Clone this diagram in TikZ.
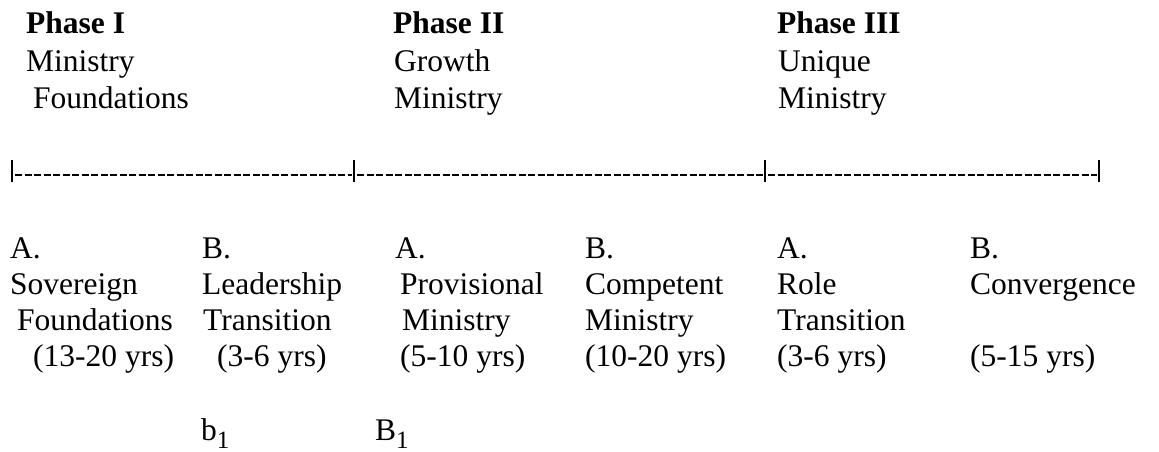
\documentclass[tikz,border=0pt]{standalone}
\usepackage{fontspec}
\setmainfont{Liberation Serif}
\begin{document}
\begin{tikzpicture}[x=1pt,y=-1pt,
  txt/.style={anchor=base west, inner sep=0pt, font=\fontsize{31.5}{37}\selectfont},
  hd/.style={anchor=base west, inner sep=0pt, font=\fontsize{31.5}{37}\selectfont\bfseries},
  tickbar/.style={line width=2.2pt, black},
  dashline/.style={line width=1.3pt, black, dash pattern=on 7pt off 2.5pt}]
\useasboundingbox (0,0) rectangle (1159,452);
% Phase headings
\node[hd]  (p1)  at (26,34)  {Phase I};
\node[txt] (p1a) at (26,71)  {Ministry};
\node[txt] (p1b) at (33,108) {Foundations};
\node[hd]  (p2)  at (393,34) {Phase II};
\node[txt] (p2a) at (394,71) {Growth};
\node[txt] (p2b) at (394,108){Ministry};
\node[hd]  (p3)  at (777,34) {Phase III};
\node[txt] (p3a) at (778,71) {Unique};
\node[txt] (p3b) at (778,108){Ministry};
% timeline
\coordinate (t0) at (12,171);
\coordinate (t1) at (354,171);
\coordinate (t2) at (765,171);
\coordinate (t3) at (1099,171);
\foreach \t in {t0,t1,t2,t3}
  \draw[tickbar] ([yshift=-11pt]\t) -- ([yshift=11pt]\t);
\draw[dashline] ([xshift=3pt,yshift=-4pt]t0) -- ([xshift=-2pt,yshift=-4pt]t1);
\draw[dashline] ([xshift=3pt,yshift=-4pt]t1) -- ([xshift=-2pt,yshift=-4pt]t2);
\draw[dashline] ([xshift=3pt,yshift=-4pt]t2) -- ([xshift=-2pt,yshift=-4pt]t3);
% stages
\node[txt] (a1) at (10,258)  {A.};
\node[txt] (a2) at (10,294)  {Sovereign};
\node[txt] (a3) at (17,330)  {Foundations};
\node[txt] (a4) at (33,366)  {(13-20 yrs)};
\node[txt] (b1) at (202,258) {B.};
\node[txt] (b2) at (202,294) {Leadership};
\node[txt] (b3) at (203,330) {Transition};
\node[txt] (b4) at (217,366) {(3-6 yrs)};
\node[txt] (c1) at (395,258) {A.};
\node[txt] (c2) at (400,294) {Provisional};
\node[txt] (c3) at (402,330) {Ministry};
\node[txt] (c4) at (400,366) {(5-10 yrs)};
\node[txt] (d1) at (585,258) {B.};
\node[txt] (d2) at (585,294) {Competent};
\node[txt] (d3) at (585,330) {Ministry};
\node[txt] (d4) at (585,366) {(10-20 yrs)};
\node[txt] (e1) at (777,258) {A.};
\node[txt] (e2) at (777,294) {Role};
\node[txt] (e3) at (777,330) {Transition};
\node[txt] (e4) at (777,366) {(3-6 yrs)};
\node[txt] (f1) at (970,258) {B.};
\node[txt] (f2) at (970,294) {Convergence};
\node[txt] (f4) at (970,366) {(5-15 yrs)};
% bottom labels
\node[txt] (s1) at (201,440) {b\raisebox{-8pt}{\fontsize{25}{25}\selectfont 1}};
\node[txt] (s2) at (375,440) {B\raisebox{-8pt}{\fontsize{25}{25}\selectfont 1}};
\end{tikzpicture}
\end{document}
